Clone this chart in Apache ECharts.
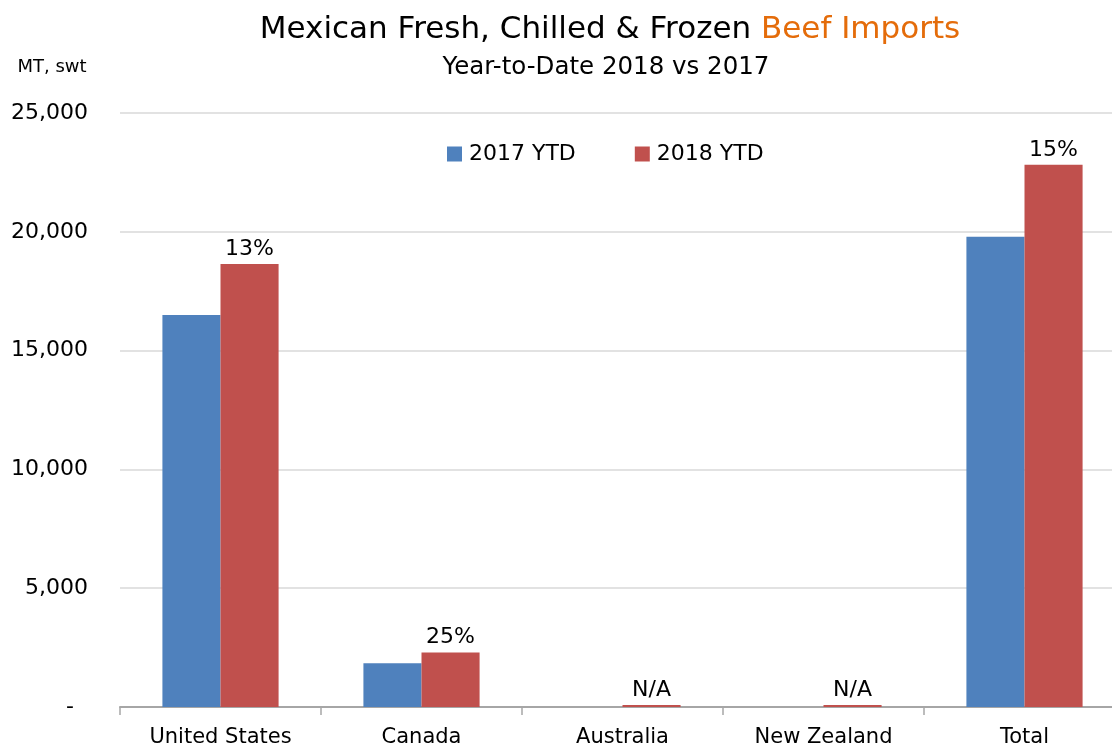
<!DOCTYPE html>
<html>
<head>
<meta charset="utf-8">
<script src="https://cdn.jsdelivr.net/npm/echarts@6/dist/echarts.min.js"></script>
<style>
  html, body { margin: 0; padding: 0; background: #fff; }
  #chart { width: 1112px; height: 749px; }
</style>
</head>
<body>
<div id="chart"></div>
<script>
// Mexican beef imports, year-to-date, by supplier (MT, shipped weight)
const categories = ['United States', 'Canada', 'Australia', 'New Zealand', 'Total'];
const ytd2017 = [16500, 1840, 0, 0, 19790];
const ytd2018 = [18650, 2290, 80, 80, 22820];
const changeLabels = ['13%', '25%', 'N/A', 'N/A', '15%'];
const yTicks = [0, 5000, 10000, 15000, 20000, 25000];

const FONT = '"DejaVu Sans", sans-serif';

const chart = echarts.init(document.getElementById('chart'), null, { renderer: 'canvas' });

chart.setOption({
  animation: false,
  backgroundColor: '#ffffff',
  textStyle: { fontFamily: FONT },
  graphic: [
    {
      type: 'text', x: 610, y: 30,
      style: {
        text: '{a|Mexican Fresh, Chilled & Frozen }{b|Beef Imports}',
        align: 'center', verticalAlign: 'middle',
        rich: {
          a: { fontSize: 31, fontFamily: FONT, fill: '#000' },
          b: { fontSize: 31, fontFamily: FONT, fill: '#E46C0A' }
        }
      }
    },
    {
      type: 'text', x: 606, y: 68,
      style: { text: 'Year-to-Date 2018 vs 2017', fontSize: 24.5, fontFamily: FONT, fill: '#000', align: 'center', verticalAlign: 'middle' }
    },
    {
      type: 'text', x: 52, y: 67,
      style: { text: 'MT, swt', fontSize: 18, fontFamily: FONT, fill: '#000', align: 'center', verticalAlign: 'middle' }
    }
  ],
  legend: {
    data: ['2017 YTD', '2018 YTD'],
    left: 442, top: 138,
    itemWidth: 15, itemHeight: 15, itemGap: 59,
    icon: 'rect',
    textStyle: { fontSize: 22, fontFamily: FONT, color: '#000', padding: [0, 0, 0, 2] }
  },
  grid: { left: 120, top: 113, right: -13, bottom: 42, containLabel: false, outerBoundsMode: 'none' },
  xAxis: {
    type: 'category',
    data: categories,
    axisLine: { show: true, lineStyle: { color: '#A6A6A6', width: 2 } },
    axisTick: { show: true, length: 8, lineStyle: { color: '#A6A6A6', width: 1.5 } },
    axisLabel: { fontSize: 21, fontFamily: FONT, color: '#000', margin: 20 }
  },
  yAxis: {
    type: 'value',
    min: yTicks[0], max: yTicks[yTicks.length - 1], interval: 5000,
    axisLine: { show: false },
    axisTick: { show: false },
    splitLine: { lineStyle: { color: '#D9D9D9', width: 1.5 } },
    axisLabel: {
      fontSize: 22, fontFamily: FONT, color: '#000', margin: 32,
      formatter: v => v === 0 ? '-  ' : v.toLocaleString('en-US')
    }
  },
  series: [
    {
      name: '2017 YTD', type: 'bar', data: ytd2017,
      barWidth: '28.9%', barGap: '0%',
      itemStyle: { color: '#4F81BD' }
    },
    {
      name: '2018 YTD', type: 'bar', data: ytd2018,
      barWidth: '28.9%',
      itemStyle: { color: '#C0504D' },
      label: {
        show: true, position: 'top', distance: 4,
        fontSize: 22, fontFamily: FONT, color: '#000',
        formatter: p => changeLabels[p.dataIndex]
      }
    }
  ]
});
</script>
</body>
</html>
